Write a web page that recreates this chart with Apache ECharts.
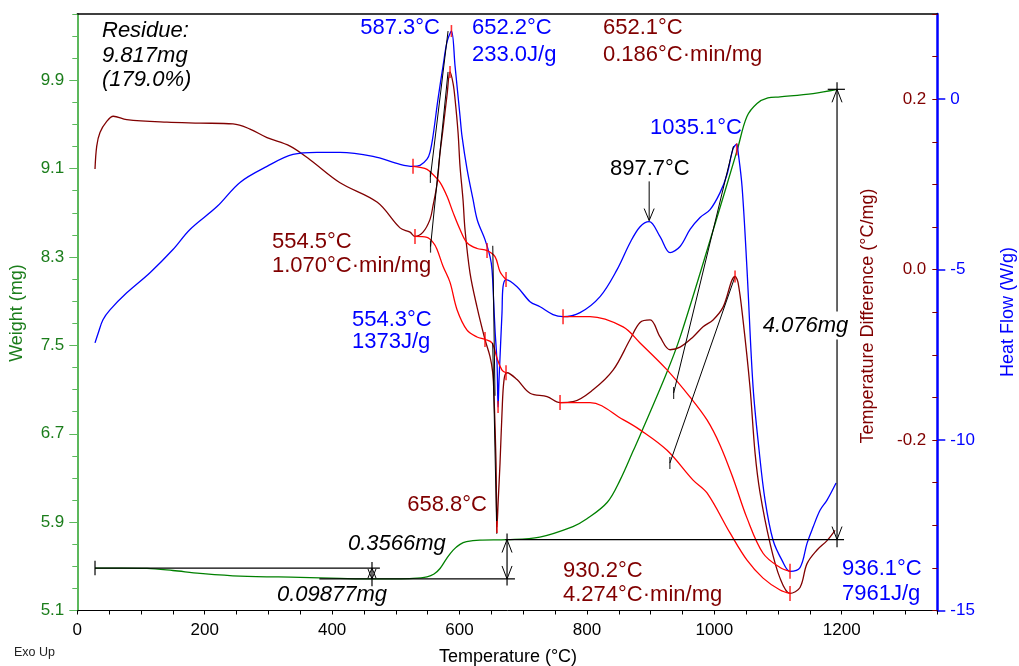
<!DOCTYPE html>
<html>
<head>
<meta charset="utf-8">
<script src="https://cdn.jsdelivr.net/npm/echarts@6/dist/echarts.min.js"></script>
<style>
  html, body { margin: 0; padding: 0; background: #fff; }
  #chart { width: 1019px; height: 666px; }
</style>
</head>
<body>
<div id="chart"></div>
<script>
// ---- axis ticks and labels ----
const tempLabels = [0, 200, 400, 600, 800, 1000, 1200];
const weightLabels = [5.1, 5.9, 6.7, 7.5, 8.3, 9.1, 9.9];
const dtaLabels = [0.2, 0.0, -0.2];
const hfLabels = [0, -5, -10, -15];

// ---- analysis results ----
const residueMg = 9.817;
const residuePct = 179.0;
const lossStep = 0.09877;
const gainStep1 = 0.3566;
const gainStep2 = 4.076;

// ---- TGA weight (°C, mg) ----
const weight = [
  [27.8, 5.484], [70, 5.484], [109.4, 5.481], [150, 5.462], [192.6, 5.437], [255.4, 5.412],
  [349.6, 5.400], [412.4, 5.391], [464, 5.386], [500, 5.386], [527, 5.390], [549, 5.405],
  [560, 5.43], [569.4, 5.48], [580, 5.572], [590, 5.647], [600.8, 5.699], [611, 5.723],
  [632, 5.738], [674.6, 5.742], [726, 5.765], [778, 5.86], [800, 5.93], [832, 6.08],
  [852, 6.28], [873, 6.55], [883, 6.68], [923, 7.22], [946, 7.57], [998, 8.54],
  [1036, 9.27], [1051, 9.57], [1067, 9.69], [1084, 9.74], [1103, 9.75], [1155, 9.78], [1193, 9.817]
];

// ---- DTA temperature difference (°C, °C/mg) ----
const tempDiff = [
  [27.8, 0.118], [30.5, 0.145], [35.6, 0.161], [46.2, 0.174], [56.5, 0.180], [77.6, 0.176],
  [140.8, 0.173], [192.6, 0.172], [244.4, 0.171], [271.1, 0.165], [297.8, 0.155], [333.9, 0.145],
  [365.3, 0.129], [412.4, 0.102], [471, 0.079], [506.6, 0.049], [522.3, 0.044], [530.1, 0.039],
  [542.7, 0.044], [553.7, 0.059], [558.4, 0.075], [564.6, 0.100], [569.4, 0.137], [574.1, 0.165],
  [580.4, 0.205], [585.1, 0.232], [590, 0.218], [593.0, 0.20], [597.7, 0.161], [600.8, 0.121],
  [605.5, 0.082], [608.6, 0.047], [616.5, -0.004], [627.5, -0.044], [640.0, -0.082], [647.9, -0.102],
  [652.0, -0.12], [654.2, -0.149], [657.3, -0.227], [658.8, -0.302], [660.8, -0.27], [663.6, -0.227],
  [666.7, -0.168], [669.9, -0.129], [674.6, -0.121], [690.3, -0.129], [710.7, -0.145], [737.4, -0.149],
  [757.8, -0.156], [778.2, -0.155], [809.6, -0.141], [841.0, -0.118], [867.7, -0.082], [883.4, -0.062],
  [899.2, -0.059], [914.8, -0.079], [930.5, -0.094], [946.2, -0.091], [966.6, -0.079], [982.3, -0.067],
  [998.0, -0.059], [1013.7, -0.044], [1032.5, -0.008], [1037.2, -0.015], [1045.0, -0.059], [1056.0, -0.138],
  [1063.9, -0.215], [1071.8, -0.262], [1087.4, -0.321], [1103.1, -0.362], [1118.8, -0.380], [1134.5, -0.373],
  [1145.5, -0.345], [1161.2, -0.329], [1176.9, -0.318], [1189.5, -0.306]
];

// ---- DSC heat flow (°C, W/g) ----
const heatFlow = [
  [27.8, -7.15], [33.0, -6.85], [40.3, -6.47], [51.3, -6.18], [77.6, -5.68], [114.1, -5.09],
  [150.2, -4.41], [176.9, -3.82], [219.3, -3.15], [255.4, -2.44], [297.8, -1.97], [338.6, -1.62],
  [376.3, -1.56], [412.4, -1.56], [464.2, -1.68], [506.6, -1.91], [527.0, -1.97], [538.0, -1.94],
  [549.0, -1.76], [553.7, -1.55], [558.4, -1.08], [566.2, 0.0], [574.1, 0.97], [580.4, 1.68],
  [587.3, 2.0], [593.0, 0.97], [600.8, -0.5], [604.0, -1.1], [611.8, -2.05], [621.2, -2.94],
  [628.0, -3.55], [640.0, -4.12], [647.9, -4.62], [651.0, -5.0], [653.5, -5.9], [655.7, -6.76],
  [658.9, -7.74], [660.5, -9.03], [662.0, -8.24], [666.7, -6.26], [668.3, -5.5], [673.0, -5.29],
  [690.3, -5.5], [710.7, -5.94], [726.4, -6.09], [746.8, -6.32], [762.5, -6.38], [789.2, -6.26],
  [820.6, -5.79], [847.3, -5.0], [867.7, -4.21], [883.4, -3.74], [897.7, -3.59], [914.8, -4.03],
  [930.5, -4.5], [946.2, -4.32], [961.9, -3.82], [977.6, -3.47], [993.3, -3.24], [1009.0, -2.74],
  [1020.0, -2.2], [1029.4, -1.45], [1035.1, -1.32], [1037.2, -1.53], [1043.5, -2.56], [1051.3, -5.0],
  [1060.8, -8.44], [1070.2, -10.29], [1079.6, -11.76], [1092.2, -12.94], [1106.3, -13.53], [1118.8, -13.85],
  [1134.5, -13.74], [1145.5, -13.03], [1154.9, -12.56], [1165.9, -12.06], [1176.9, -11.76], [1191.1, -11.26]
];

// ---- integration baselines ----
const hfBaseline1 = [[527.0, -1.97], [538.0, -2.0], [549.0, -2.06], [558.4, -2.21], [569.4, -2.44], [580.4, -2.85],
  [589.8, -3.32], [600.8, -3.82], [611.8, -4.21], [627.5, -4.38], [643.2, -4.44], [655.7, -4.62], [663.6, -5.06], [673.0, -5.29]];
const dtaBaseline1 = [[530.1, 0.039], [549.0, 0.038], [558.4, 0.032], [564.6, 0.024], [574.1, 0.004], [585.1, -0.015],
  [596.1, -0.047], [611.8, -0.071], [627.5, -0.079], [640.0, -0.082], [651.0, -0.086], [658.9, -0.104], [666.7, -0.118], [673.0, -0.121]];
const hfBaseline2 = [[762.5, -6.38], [804.9, -6.38], [856.8, -6.68], [883.4, -7.15], [925.8, -7.94], [961.9, -8.74],
  [988.5, -9.41], [1009.0, -10.15], [1029.4, -11.12], [1051.3, -12.29], [1076.5, -13.32], [1103.1, -13.74], [1118.8, -13.85]];
const dtaBaseline2 = [[757.8, -0.156], [804.9, -0.156], [856.8, -0.176], [883.4, -0.188], [925.8, -0.212], [966.6, -0.247],
  [988.5, -0.262], [1024.6, -0.309], [1051.3, -0.341], [1076.5, -0.362], [1103.1, -0.376], [1118.8, -0.380]];

// ---- integration limits and peak markers ----
const hfLimits = [[527.0, -1.97], [643.2, -4.44], [673.0, -5.29], [762.5, -6.38], [1118.8, -13.85]];
const hfPeaks = [[587.3, 2.0], [660.5, -9.03], [1035.1, -1.47]];
const dtaLimits = [[530.1, 0.039], [640.0, -0.082], [673.0, -0.121], [757.8, -0.156], [1118.8, -0.380]];
const dtaPeaks = [[585.1, 0.232], [658.8, -0.302], [1032.5, -0.008]];

// ---- onset tangents ----
const hfTangents = [[[554.3, -2.28], [582.0, 2.0]], [[652.2, -4.3], [655.7, -8.7]], [[936.1, -8.62], [1030.0, -1.38]]];
const dtaTangents = [[[554.5, 0.027], [582.0, 0.232]], [[652.1, -0.086], [658.5, -0.31]], [[930.2, -0.227], [1032.5, -0.008]]];
const hfOnsets = [[554.3, -2.28], [936.1, -8.62]];
const dtaOnsets = [[554.5, 0.027], [930.2, -0.227]];

// ---- peak arrow on heat flow ----
const hfPeakArrow = [[897.7, -2.41], [897.7, -3.56]];

// ---- weight step levels ----
const wStart = residueMg / (residuePct / 100);
const wLow = wStart - lossStep;
const wMid = wLow + gainStep1;
const wEnd = wMid + gainStep2;
const stepTemps = [462.6, 674.6, 1192.6];

const weightSegments = [
  [[27.8, wStart], [475, wStart]],
  [[27.8, wStart + 0.065], [27.8, wStart - 0.065]],
  [[380, wLow], [687, wLow]],
  [[stepTemps[0], wStart + 0.055], [stepTemps[0], wLow - 0.065]],
  [[672, wMid], [1203.6, wMid]],
  [[stepTemps[1], wMid + 0.055], [stepTemps[1], wLow - 0.06]],
  [[1178, wEnd], [1205, wEnd]],
  [[stepTemps[2], wEnd + 0.065], [stepTemps[2], wMid - 0.07]]
];
// [temperature, weight, direction: 1 = points up, -1 = points down]
const smallArrows = [[stepTemps[0], wStart, 1], [stepTemps[0], wLow, -1]];
const stepArrows = [[stepTemps[1], wMid, 1], [stepTemps[1], wLow, -1], [stepTemps[2], wEnd, 1], [stepTemps[2], wMid, -1]];
const hfArrowTip = [[897.7, -3.56, -1]];

// ---- drawing helpers ----
const FONT = '"Liberation Sans", Arial, Helvetica, sans-serif';
const BLUE = '#0000ff', BROWN = '#800000', GREEN = '#008000', RED = '#ff0000', AXGREEN = '#5cb85c', LBLGREEN = '#1b7d1b';

const weightMinorTicks = Array.from({ length: 28 }, (_, i) => +(5.1 + 0.2 * i).toFixed(1));
const dtaMinorTicks = Array.from({ length: 15 }, (_, i) => +(-0.4 + 0.05 * i).toFixed(2));

function curve(data, yAxisIndex, color, width, z) {
  return {
    type: 'line', data, xAxisIndex: 0, yAxisIndex,
    showSymbol: false, symbol: 'none', smooth: 0.35,
    lineStyle: { color, width }, itemStyle: { color }, z, silent: true
  };
}
function segments(segs, yAxisIndex, color, width, z) {
  return {
    type: 'custom', coordinateSystem: 'cartesian2d', xAxisIndex: 0, yAxisIndex,
    data: segs.map(s => [s[0][0], s[0][1], s[1][0], s[1][1]]),
    encode: { x: [0, 2], y: [1, 3] },
    renderItem(params, api) {
      const a = api.coord([api.value(0), api.value(1)]);
      const b = api.coord([api.value(2), api.value(3)]);
      return { type: 'line', shape: { x1: a[0], y1: a[1], x2: b[0], y2: b[1] }, style: { stroke: color, lineWidth: width } };
    },
    clip: false, silent: true, z
  };
}
function arrows(items, yAxisIndex, half, len, z) {
  return {
    type: 'custom', coordinateSystem: 'cartesian2d', xAxisIndex: 0, yAxisIndex,
    data: items, encode: { x: 0, y: 1 },
    renderItem(params, api) {
      const p = api.coord([api.value(0), api.value(1)]);
      const d = api.value(2);
      return {
        type: 'polyline',
        shape: { points: [[p[0] - half, p[1] + d * len], [p[0], p[1]], [p[0] + half, p[1] + d * len]] },
        style: { stroke: '#000', lineWidth: 1, fill: null }
      };
    },
    clip: false, silent: true, z
  };
}
function ticks(data, yAxisIndex, color, size, z) {
  return {
    type: 'scatter', data, xAxisIndex: 0, yAxisIndex, symbol: 'rect', symbolSize: size,
    itemStyle: { color }, silent: true, z
  };
}
function label(text, x, y, color, opts = {}) {
  const align = opts.align || 'left';
  return {
    type: 'text', x, y, z: 100, rotation: opts.rotation || 0,
    style: {
      text, fill: color,
      font: (opts.italic ? 'italic ' : '') + (opts.size || 22) + 'px ' + FONT,
      align, verticalAlign: 'middle', textAlign: align, textVerticalAlign: 'middle',
      backgroundColor: opts.bg, padding: opts.bg ? [3, 1] : 0
    }
  };
}

const chart = echarts.init(document.getElementById('chart'), null, { renderer: 'canvas' });
chart.setOption({
  animation: false,
  backgroundColor: '#fff',
  grid: { left: 77.3, right: 81.7, top: 14, bottom: 55.5, containLabel: false, outerBoundsMode: 'none' },
  xAxis: [
    {
      type: 'value', position: 'bottom', min: 0, max: 1350, interval: 50,
      axisLine: { show: true, onZero: false, lineStyle: { color: '#000', width: 1 } },
      axisTick: { show: true, length: 4, lineStyle: { color: '#000' } },
      axisLabel: { formatter: v => (tempLabels.includes(v) ? String(v) : ''), color: '#000', fontSize: 17, fontFamily: FONT, margin: 11 },
      splitLine: { show: false }
    },
    {
      type: 'value', position: 'top', min: 0, max: 1350,
      axisLine: { show: true, onZero: false, lineStyle: { color: '#000', width: 1.5 } },
      axisTick: { show: false }, axisLabel: { show: false }, splitLine: { show: false }
    }
  ],
  yAxis: [
    {
      type: 'value', position: 'left', min: 5.1, max: 10.5,
      axisLine: { show: true, onZero: false, lineStyle: { color: AXGREEN, width: 2 } },
      axisTick: { show: true, length: 8, customValues: weightLabels, lineStyle: { color: AXGREEN } },
      axisLabel: { customValues: weightLabels, formatter: v => v.toFixed(1), color: LBLGREEN, fontSize: 17, fontFamily: FONT, margin: 13 },
      splitLine: { show: false }
    },
    {
      type: 'value', position: 'right', min: -0.4, max: 0.3,
      axisLine: { show: false, onZero: false },
      axisTick: { show: true, inside: true, length: 5, customValues: dtaMinorTicks, lineStyle: { color: BROWN } },
      axisLabel: { inside: true, customValues: dtaLabels, formatter: v => v.toFixed(1), color: BROWN, fontSize: 17, fontFamily: FONT, margin: 11 },
      splitLine: { show: false }
    },
    {
      type: 'value', position: 'right', min: -15, max: 2.5,
      axisLine: { show: true, onZero: false, lineStyle: { color: BLUE, width: 2.5 } },
      axisTick: { show: true, length: 8, customValues: hfLabels, lineStyle: { color: BLUE, width: 1.5 } },
      axisLabel: { customValues: hfLabels, formatter: v => String(v), color: BLUE, fontSize: 17, fontFamily: FONT, margin: 13 },
      splitLine: { show: false }
    },
    {
      type: 'value', position: 'left', min: 5.1, max: 10.5,
      axisLine: { show: false, onZero: false },
      axisTick: { show: true, length: 5, customValues: weightMinorTicks, lineStyle: { color: AXGREEN } },
      axisLabel: { show: false }, splitLine: { show: false }
    }
  ],
  series: [
    curve(weight, 0, GREEN, 1.3, 2),
    curve(tempDiff, 1, BROWN, 1.3, 3),
    curve(heatFlow, 2, BLUE, 1.3, 4),
    curve(hfBaseline1, 2, RED, 1.3, 5),
    curve(hfBaseline2, 2, RED, 1.3, 5),
    curve(dtaBaseline1, 1, RED, 1.3, 5),
    curve(dtaBaseline2, 1, RED, 1.3, 5),
    segments(hfTangents, 2, '#000', 1, 6),
    segments(dtaTangents, 1, '#000', 1, 6),
    segments([hfPeakArrow], 2, '#000', 1, 6),
    segments(weightSegments, 0, '#000', 1.2, 6),
    arrows(smallArrows, 0, 4, 10, 6),
    arrows(stepArrows, 0, 5, 13, 6),
    arrows(hfArrowTip, 2, 5, 12, 6),
    ticks(hfOnsets, 2, '#000', [1.2, 12], 7),
    ticks(dtaOnsets, 1, '#000', [1.2, 12], 7),
    ticks(hfLimits, 2, RED, [1.6, 15], 8),
    ticks(dtaLimits, 1, RED, [1.6, 15], 8),
    ticks(hfPeaks, 2, RED, [1.6, 12], 8),
    ticks(dtaPeaks, 1, RED, [1.6, 12], 8)
  ],
  graphic: [
    label('Residue:', 102, 31, '#000', { italic: true }),
    label(residueMg.toFixed(3) + 'mg', 102, 56, '#000', { italic: true }),
    label('(' + residuePct.toFixed(1) + '%)', 102, 80, '#000', { italic: true }),
    label('587.3°C', 440, 28, BLUE, { align: 'right' }),
    label('652.2°C', 472, 28, BLUE),
    label('233.0J/g', 472, 55, BLUE),
    label('652.1°C', 603, 28, BROWN),
    label('0.186°C·min/mg', 603, 55, BROWN),
    label('1035.1°C', 742, 127.5, BLUE, { align: 'right' }),
    label('897.7°C', 610, 169, '#000'),
    label('554.5°C', 272, 242, BROWN),
    label('1.070°C·min/mg', 272, 266, BROWN),
    label('554.3°C', 352, 319.5, BLUE),
    label('1373J/g', 352, 342, BLUE),
    label('658.8°C', 487, 505, BROWN, { align: 'right' }),
    label(gainStep1.toFixed(4) + 'mg', 348, 544, '#000', { italic: true }),
    label(lossStep.toFixed(5) + 'mg', 277, 595, '#000', { italic: true }),
    label('930.2°C', 563, 570.5, BROWN),
    label('4.274°C·min/mg', 563, 595, BROWN),
    label('936.1°C', 842, 569, BLUE),
    label('7961J/g', 842, 593.5, BLUE),
    label(gainStep2.toFixed(3) + 'mg', 805.5, 325.5, '#000', { italic: true, align: 'center', bg: '#fff' }),
    label('Temperature (°C)', 508, 657, '#000', { size: 18, align: 'center' }),
    label('Weight (mg)', 17, 313, LBLGREEN, { size: 18, align: 'center', rotation: Math.PI / 2 }),
    label('Temperature Difference (°C/mg)', 868.5, 316, BROWN, { size: 18, align: 'center', rotation: Math.PI / 2 }),
    label('Heat Flow (W/g)', 1008, 312, BLUE, { size: 18, align: 'center', rotation: Math.PI / 2 }),
    label('Exo Up', 14, 653, '#222', { size: 12.5 })
  ]
});
</script>
</body>
</html>
